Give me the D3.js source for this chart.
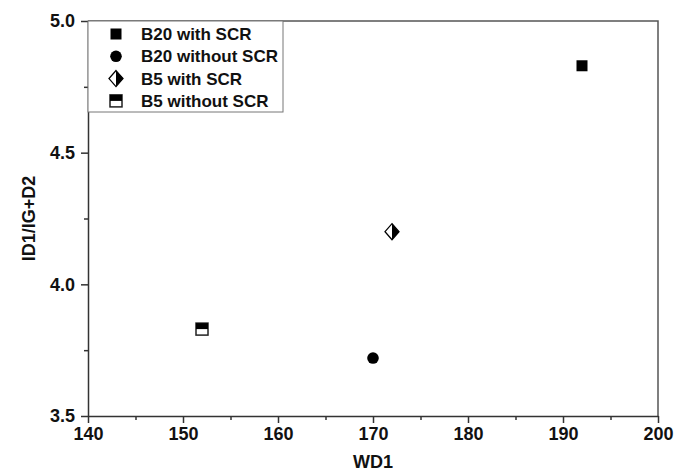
<!DOCTYPE html>
<html>
<head>
<meta charset="utf-8">
<script src="https://cdn.jsdelivr.net/npm/d3@7"></script>
<style>
  body { margin: 0; background: #fff; }
  text { font-family: "Liberation Sans", Arial, sans-serif; font-weight: bold; fill: #111; }
</style>
</head>
<body>
<div id="chart"></div>
<script>
// data
const seriesNames = ["B20 with SCR", "B20 without SCR", "B5 with SCR", "B5 without SCR"];
const seriesSymbols = ["square", "circle", "halfDiamond", "halfSquare"];
const wd1Values = [192, 170, 172, 152];
const ratioValues = [4.83, 3.72, 4.20, 3.83];
const xTickValues = [140, 150, 160, 170, 180, 190, 200];
const xMinorValues = [145, 155, 165, 175, 185, 195];
const yTickValues = [3.5, 4.0, 4.5, 5.0];
const yMinorValues = [3.75, 4.25, 4.75];

const W = 675, H = 475;
const m = { left: 88, right: 17, top: 21, bottom: 59 };

const svg = d3.select("#chart").append("svg")
  .attr("width", W).attr("height", H);

const x = d3.scaleLinear().domain([140, 200]).range([m.left, W - m.right]);
const y = d3.scaleLinear().domain([3.5, 5.0]).range([H - m.bottom, m.top]);

const axisColor = "#333";

// frame (top, right)
svg.append("path")
  .attr("d", `M${x(140)},${y(5)}H${x(200)}V${y(3.5)}`)
  .attr("fill", "none").attr("stroke", "#555").attr("stroke-width", 1.5);

// x axis
svg.append("g").attr("class", "major").attr("transform", `translate(0,${y(3.5)})`)
  .call(d3.axisBottom(x).tickValues(xTickValues).tickSize(7).tickSizeOuter(0).tickPadding(4).tickFormat(d3.format("d")));
svg.append("g").attr("transform", `translate(0,${y(3.5)})`)
  .call(d3.axisBottom(x).tickValues(xMinorValues).tickSize(4).tickFormat(""))
  .call(g => g.select(".domain").remove());

// y axis
svg.append("g").attr("class", "major").attr("transform", `translate(${x(140)},0)`)
  .call(d3.axisLeft(y).tickValues(yTickValues).tickSize(7).tickSizeOuter(0).tickPadding(6).tickFormat(d3.format(".1f")));
svg.append("g").attr("transform", `translate(${x(140)},0)`)
  .call(d3.axisLeft(y).tickValues(yMinorValues).tickSize(4).tickFormat(""))
  .call(g => g.select(".domain").remove());

svg.selectAll(".domain, .tick line").attr("stroke", axisColor).attr("stroke-width", 1.5);
svg.selectAll("g.major")
  .attr("font-family", "'Liberation Sans', Arial, sans-serif")
  .attr("font-weight", "bold")
  .attr("font-size", 18);
svg.selectAll("g.major .tick text").attr("fill", "#111").attr("font-weight", "bold");

// axis titles
svg.append("text")
  .attr("x", (x(140) + x(200)) / 2).attr("y", 468)
  .attr("text-anchor", "middle").attr("font-size", 18).text("WD1");
svg.append("text")
  .attr("transform", `translate(35,${(y(3.5) + y(5)) / 2}) rotate(-90)`)
  .attr("text-anchor", "middle").attr("font-size", 18).text("ID1/IG+D2");

// symbol drawing
function drawSymbol(g, type) {
  if (type === "square") {
    g.append("rect").attr("x", -5.5).attr("y", -5.5).attr("width", 11).attr("height", 11).attr("fill", "#000");
  } else if (type === "circle") {
    g.append("circle").attr("r", 5.8).attr("fill", "#000");
  } else if (type === "halfDiamond") {
    const w = 7, h = 8;
    g.append("path").attr("d", `M0,${-h}L${w},0L0,${h}L${-w},0Z`)
      .attr("fill", "#fff").attr("stroke", "#000").attr("stroke-width", 1.3);
    g.append("path").attr("d", `M0,${-h}L${w},0L0,${h}Z`).attr("fill", "#000");
  } else if (type === "halfSquare") {
    const s = 6;
    g.append("rect").attr("x", -s).attr("y", -s).attr("width", 2 * s).attr("height", 2 * s)
      .attr("fill", "#fff").attr("stroke", "#222").attr("stroke-width", 1.5);
    g.append("rect").attr("x", -s).attr("y", -s).attr("width", 2 * s).attr("height", s).attr("fill", "#000");
  }
}

// points
seriesNames.forEach((name, i) => {
  const g = svg.append("g").attr("transform", `translate(${x(wd1Values[i])},${y(ratioValues[i])})`);
  drawSymbol(g, seriesSymbols[i]);
});

// legend
const lg = svg.append("g").attr("transform", `translate(${x(140)},${y(5)})`);
lg.append("rect").attr("x", 0).attr("y", 0).attr("width", 195).attr("height", 91)
  .attr("fill", "#fff").attr("stroke", "#777").attr("stroke-width", 1);
seriesNames.forEach((name, i) => {
  const cy = 13 + i * 22.3;
  const g = lg.append("g").attr("transform", `translate(28,${cy})`);
  drawSymbol(g, seriesSymbols[i]);
  lg.append("text").attr("x", 53).attr("y", cy).attr("dy", "0.36em")
    .attr("font-size", 17).text(name);
});
</script>
</body>
</html>
